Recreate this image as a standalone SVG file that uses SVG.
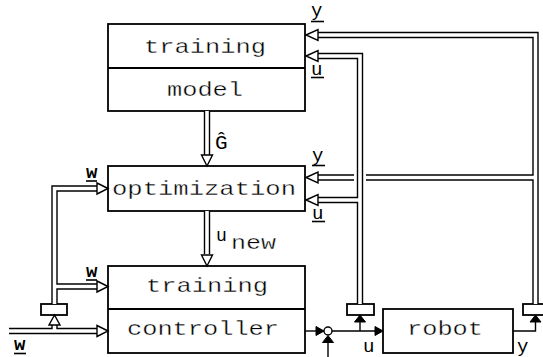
<svg xmlns="http://www.w3.org/2000/svg" width="543" height="357" viewBox="0 0 543 357">
  <style>
    .box { fill: #fff; stroke: #000; stroke-width: 1.8; }
    .dblo { fill: none; stroke: #000; stroke-width: 6.4; stroke-linejoin: miter; }
    .dbli { fill: none; stroke: #fff; stroke-width: 3.6; stroke-linejoin: miter; }
    .sig { fill: none; stroke: #000; stroke-width: 1.4; }
    .open { fill: #fff; stroke: #000; stroke-width: 1.4; stroke-linejoin: miter; }
    .solid { fill: #000; stroke: #000; stroke-width: 1; }
    .ul { stroke: #000; stroke-width: 1.6; }
    text { font-family: "Liberation Mono", "DejaVu Sans Mono", monospace; fill: #000; }
    /* a thin white edge keeps the block names light */
    .big { font-size: 21px; stroke: #fff; stroke-width: 0.35; }
    .lbl { font-size: 19px; }
  </style>
  <defs>
    <path id="openL" d="M0,0 L12,-5.5 L12,5.5 Z"/>
    <path id="openR" d="M0,0 L-11,-5.5 L-11,5.5 Z"/>
    <path id="openD" d="M0,0 L-5.5,-11 L5.5,-11 Z"/>
    <path id="openU" d="M0,0 L-5.5,10 L5.5,10 Z"/>
    <path id="fillR" d="M0,0 L-8,-4.5 L-8,4.5 Z"/>
    <path id="fillU" d="M0,0 L-5.5,7 L5.5,7 Z"/>
  </defs>

  <!-- blocks -->
  <g id="training-model">
    <rect class="box" x="108" y="24" width="197" height="87"/>
    <line class="box" x1="108" y1="68" x2="305" y2="68"/>
    <text class="big" x="144" y="53" textLength="122" lengthAdjust="spacingAndGlyphs">training</text>
    <text class="big" x="167" y="96" textLength="76" lengthAdjust="spacingAndGlyphs">model</text>
  </g>
  <g id="optimization">
    <rect class="box" x="108" y="166" width="197" height="45"/>
    <text class="big" x="112" y="195" textLength="184" lengthAdjust="spacingAndGlyphs">optimization</text>
  </g>
  <g id="training-controller">
    <rect class="box" x="108" y="266" width="197" height="87"/>
    <line class="box" x1="108" y1="309" x2="305" y2="309"/>
    <text class="big" x="146" y="292" textLength="122" lengthAdjust="spacingAndGlyphs">training</text>
    <text class="big" x="127" y="335" textLength="152" lengthAdjust="spacingAndGlyphs">controller</text>
  </g>
  <g id="robot">
    <rect class="box" x="383" y="309" width="130" height="44"/>
    <text class="big" x="407" y="335" textLength="76" lengthAdjust="spacingAndGlyphs">robot</text>
  </g>
  <g id="sum">
    <circle class="open" cx="328" cy="331" r="4"/>
  </g>
  <g id="sampler-u">
    <rect class="box" x="347" y="304" width="27" height="11"/>
  </g>
  <g id="sampler-y">
    <rect class="box" x="523" y="304" width="25" height="11"/>
  </g>
  <g id="sampler-w">
    <rect class="box" x="41" y="304" width="26" height="11"/>
  </g>

  <g id="connectors">
    <!-- measured output y: feedback to both training blocks -->
    <path class="dblo" d="M318,35 H535.5 V304 M318,177.5 H535.5"/>
    <path class="dbli" d="M318,35 H535.5 V304 M318,177.5 H535.5"/>
    <!-- gap where the u line passes over the y line -->
    <line x1="360" y1="171" x2="360" y2="184" stroke="#fff" stroke-width="12"/>
    <!-- applied input u -->
    <path class="dblo" d="M318,56 H360 V304 M318,200 H360"/>
    <path class="dbli" d="M318,56 H360 V304 M318,200 H360"/>
    <!-- reference w -->
    <path class="dblo" d="M9,331 H97 M54.5,331 V325"/>
    <path class="dbli" d="M9,331 H97 M54.5,331 V325"/>
    <path class="dblo" d="M54.5,304 V188.5 H97 M54.5,286.5 H97"/>
    <path class="dbli" d="M54.5,304 V188.5 H97 M54.5,286.5 H97"/>
    <!-- model estimate and new controller -->
    <path class="dblo" d="M207,111 V155 M207,211 V254"/>
    <path class="dbli" d="M207,111 V155 M207,211 V254"/>

    <!-- open arrowheads -->
    <use href="#openL" class="open" x="306" y="35"/>
    <use href="#openL" class="open" x="306" y="56"/>
    <use href="#openL" class="open" x="306" y="177.5"/>
    <use href="#openL" class="open" x="306" y="200"/>
    <use href="#openR" class="open" x="108" y="188.5"/>
    <use href="#openR" class="open" x="108" y="286.5"/>
    <use href="#openR" class="open" x="108" y="331"/>
    <use href="#openD" class="open" x="207" y="166"/>
    <use href="#openD" class="open" x="207" y="266"/>
    <use href="#openU" class="open" x="54.5" y="315"/>

    <!-- single signal lines -->
    <path class="sig" d="M305,331 H317"/>
    <use href="#fillR" class="solid" x="324" y="331"/>
    <path class="sig" d="M328,357 V342"/>
    <use href="#fillU" class="solid" x="328" y="335.5"/>
    <path class="sig" d="M332,331 H376"/>
    <use href="#fillR" class="solid" x="383" y="331"/>
    <path class="sig" d="M360,331 V322"/>
    <use href="#fillU" class="solid" x="360" y="315"/>
    <path class="sig" d="M513,331 H535.5 V322"/>
    <use href="#fillU" class="solid" x="535.5" y="315"/>
  </g>

  <!-- signal labels -->
  <g id="labels">
    <text class="lbl" x="311" y="16">y</text>
    <line class="ul" x1="311" y1="21.5" x2="324" y2="21.5"/>
    <text class="lbl" x="311" y="75">u</text>
    <line class="ul" x1="311" y1="77.5" x2="324" y2="77.5"/>
    <text class="lbl" x="312" y="161">y</text>
    <line class="ul" x1="312" y1="165.5" x2="325" y2="165.5"/>
    <text class="lbl" x="312" y="219">u</text>
    <line class="ul" x1="312" y1="221.5" x2="325" y2="221.5"/>

    <text x="215" y="149" font-size="21">Ĝ</text>
    <text x="216" y="241" font-size="18">u</text>
    <text class="big" x="231" y="249" textLength="45" lengthAdjust="spacingAndGlyphs">new</text>

    <text class="lbl" x="86" y="178" font-weight="bold">w</text>
    <line class="ul" x1="86" y1="181" x2="97" y2="181"/>
    <text class="lbl" x="86" y="277" font-weight="bold">w</text>
    <line class="ul" x1="86" y1="280" x2="97" y2="280"/>
    <text class="lbl" x="14" y="350" font-weight="bold">w</text>
    <line class="ul" x1="14" y1="353.5" x2="26" y2="353.5"/>

    <text class="lbl" x="363" y="352">u</text>
    <text class="lbl" x="517" y="352">y</text>
  </g>
</svg>
